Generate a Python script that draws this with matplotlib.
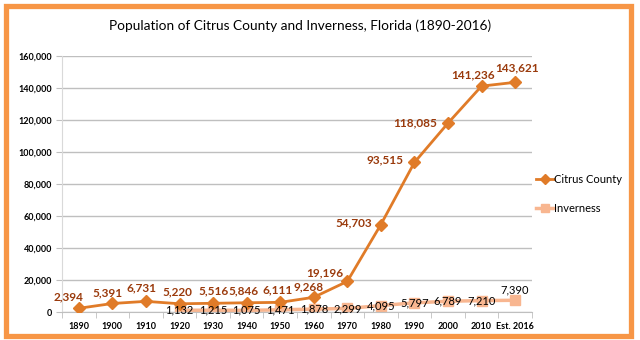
import numpy as np
import matplotlib.pyplot as plt
from matplotlib.patches import Rectangle

plt.rcParams['font.family'] = ['Lato', 'DejaVu Sans']

# данные
years = ['1890', '1900', '1910', '1920', '1930', '1940', '1950', '1960',
         '1970', '1980', '1990', '2000', '2010', 'Est. 2016']
citrus = [2394, 5391, 6731, 5220, 5516, 5846, 6111, 9268,
          19196, 54703, 93515, 118085, 141236, 143621]
inverness = [None, None, None, 1132, 1215, 1075, 1471, 1878,
             2299, 4095, 5797, 6789, 7210, 7390]

# сдвиги подписей (пиксели)
citrus_off = [(-10, 11), (-5, 11), (-4, 14), (-2, 12), (0, 12), (-3, 12), (-3, 12),
              (-5, 10), (-22, 9), (-27, 2), (-29, 3), (-33, 0), (-8, 11), (2, 14)]

c_line = '#E07B28'
c_lab = '#9A3A0C'
c_inv = '#F8B690'
c_border = '#F79646'

fig = plt.figure(figsize=(6.4, 3.4), dpi=100)
fig.patch.set_facecolor('white')
ax = fig.add_axes([0.097, 0.082, 0.734, 0.753])

x = np.arange(len(years))
ax.plot(x, citrus, color=c_line, lw=2, marker='D', ms=6.5, label='Citrus County', zorder=3)

inv_x = [i for i, v in enumerate(inverness) if v is not None]
inv_y = [v for v in inverness if v is not None]
ax.plot(inv_x, inv_y, color=c_inv, lw=2.5, marker='s', ms=7.5, label='Inverness', zorder=2)

for i, v in enumerate(citrus):
    dx, dy = citrus_off[i]
    ax.annotate(f'{v:,}', (x[i], v), xytext=(dx, dy), textcoords='offset pixels',
                ha='center', va='center', color=c_lab, fontsize=8.5, fontweight='bold', zorder=5)

for i, v in zip(inv_x, inv_y):
    dy = 10 if i == len(years) - 1 else 0
    ax.annotate(f'{v:,}', (i, v), xytext=(0, dy), textcoords='offset pixels',
                ha='center', va='center', color='black', fontsize=8, zorder=4)

ax.set_xlim(-0.5, len(years) - 0.5)
ax.set_ylim(0, 160000)
ax.set_yticks(np.arange(0, 160001, 20000))
ax.set_yticklabels([f'{v:,}' for v in range(0, 160001, 20000)], fontsize=6.5, fontweight='bold')
ax.set_xticks(x)
ax.set_xticklabels(years, fontsize=6.5, fontweight='bold')
ax.set_xticks(np.arange(-0.5, len(years), 1), minor=True)
ax.tick_params(axis='x', which='major', length=0, pad=7)
ax.tick_params(axis='x', which='minor', length=4, color='#BFBFBF', direction='out')
ax.tick_params(axis='y', length=4, color='#BFBFBF', pad=3)
ax.grid(axis='y', color='#BFBFBF', lw=1)
ax.set_axisbelow(True)
for s in ['top', 'right']:
    ax.spines[s].set_visible(False)
ax.spines['left'].set_color('#D9D9D9')
ax.spines['bottom'].set_color('#BFBFBF')

fig.text(0.469, 0.925, 'Population of Citrus County and Inverness, Florida (1890-2016)',
         ha='center', va='center', fontsize=9.8)

fig.legend(loc='center left', bbox_to_anchor=(0.822, 0.43), frameon=False, fontsize=8,
           handlelength=1.6, handletextpad=0.05, labelspacing=1.6, markerscale=0.8)

# оранжевая рамка
fig.add_artist(Rectangle((0.009, 0.013), 0.977, 0.968, transform=fig.transFigure,
                         fill=False, edgecolor=c_border, lw=3.8))

fig.savefig('out.png', dpi=100)
